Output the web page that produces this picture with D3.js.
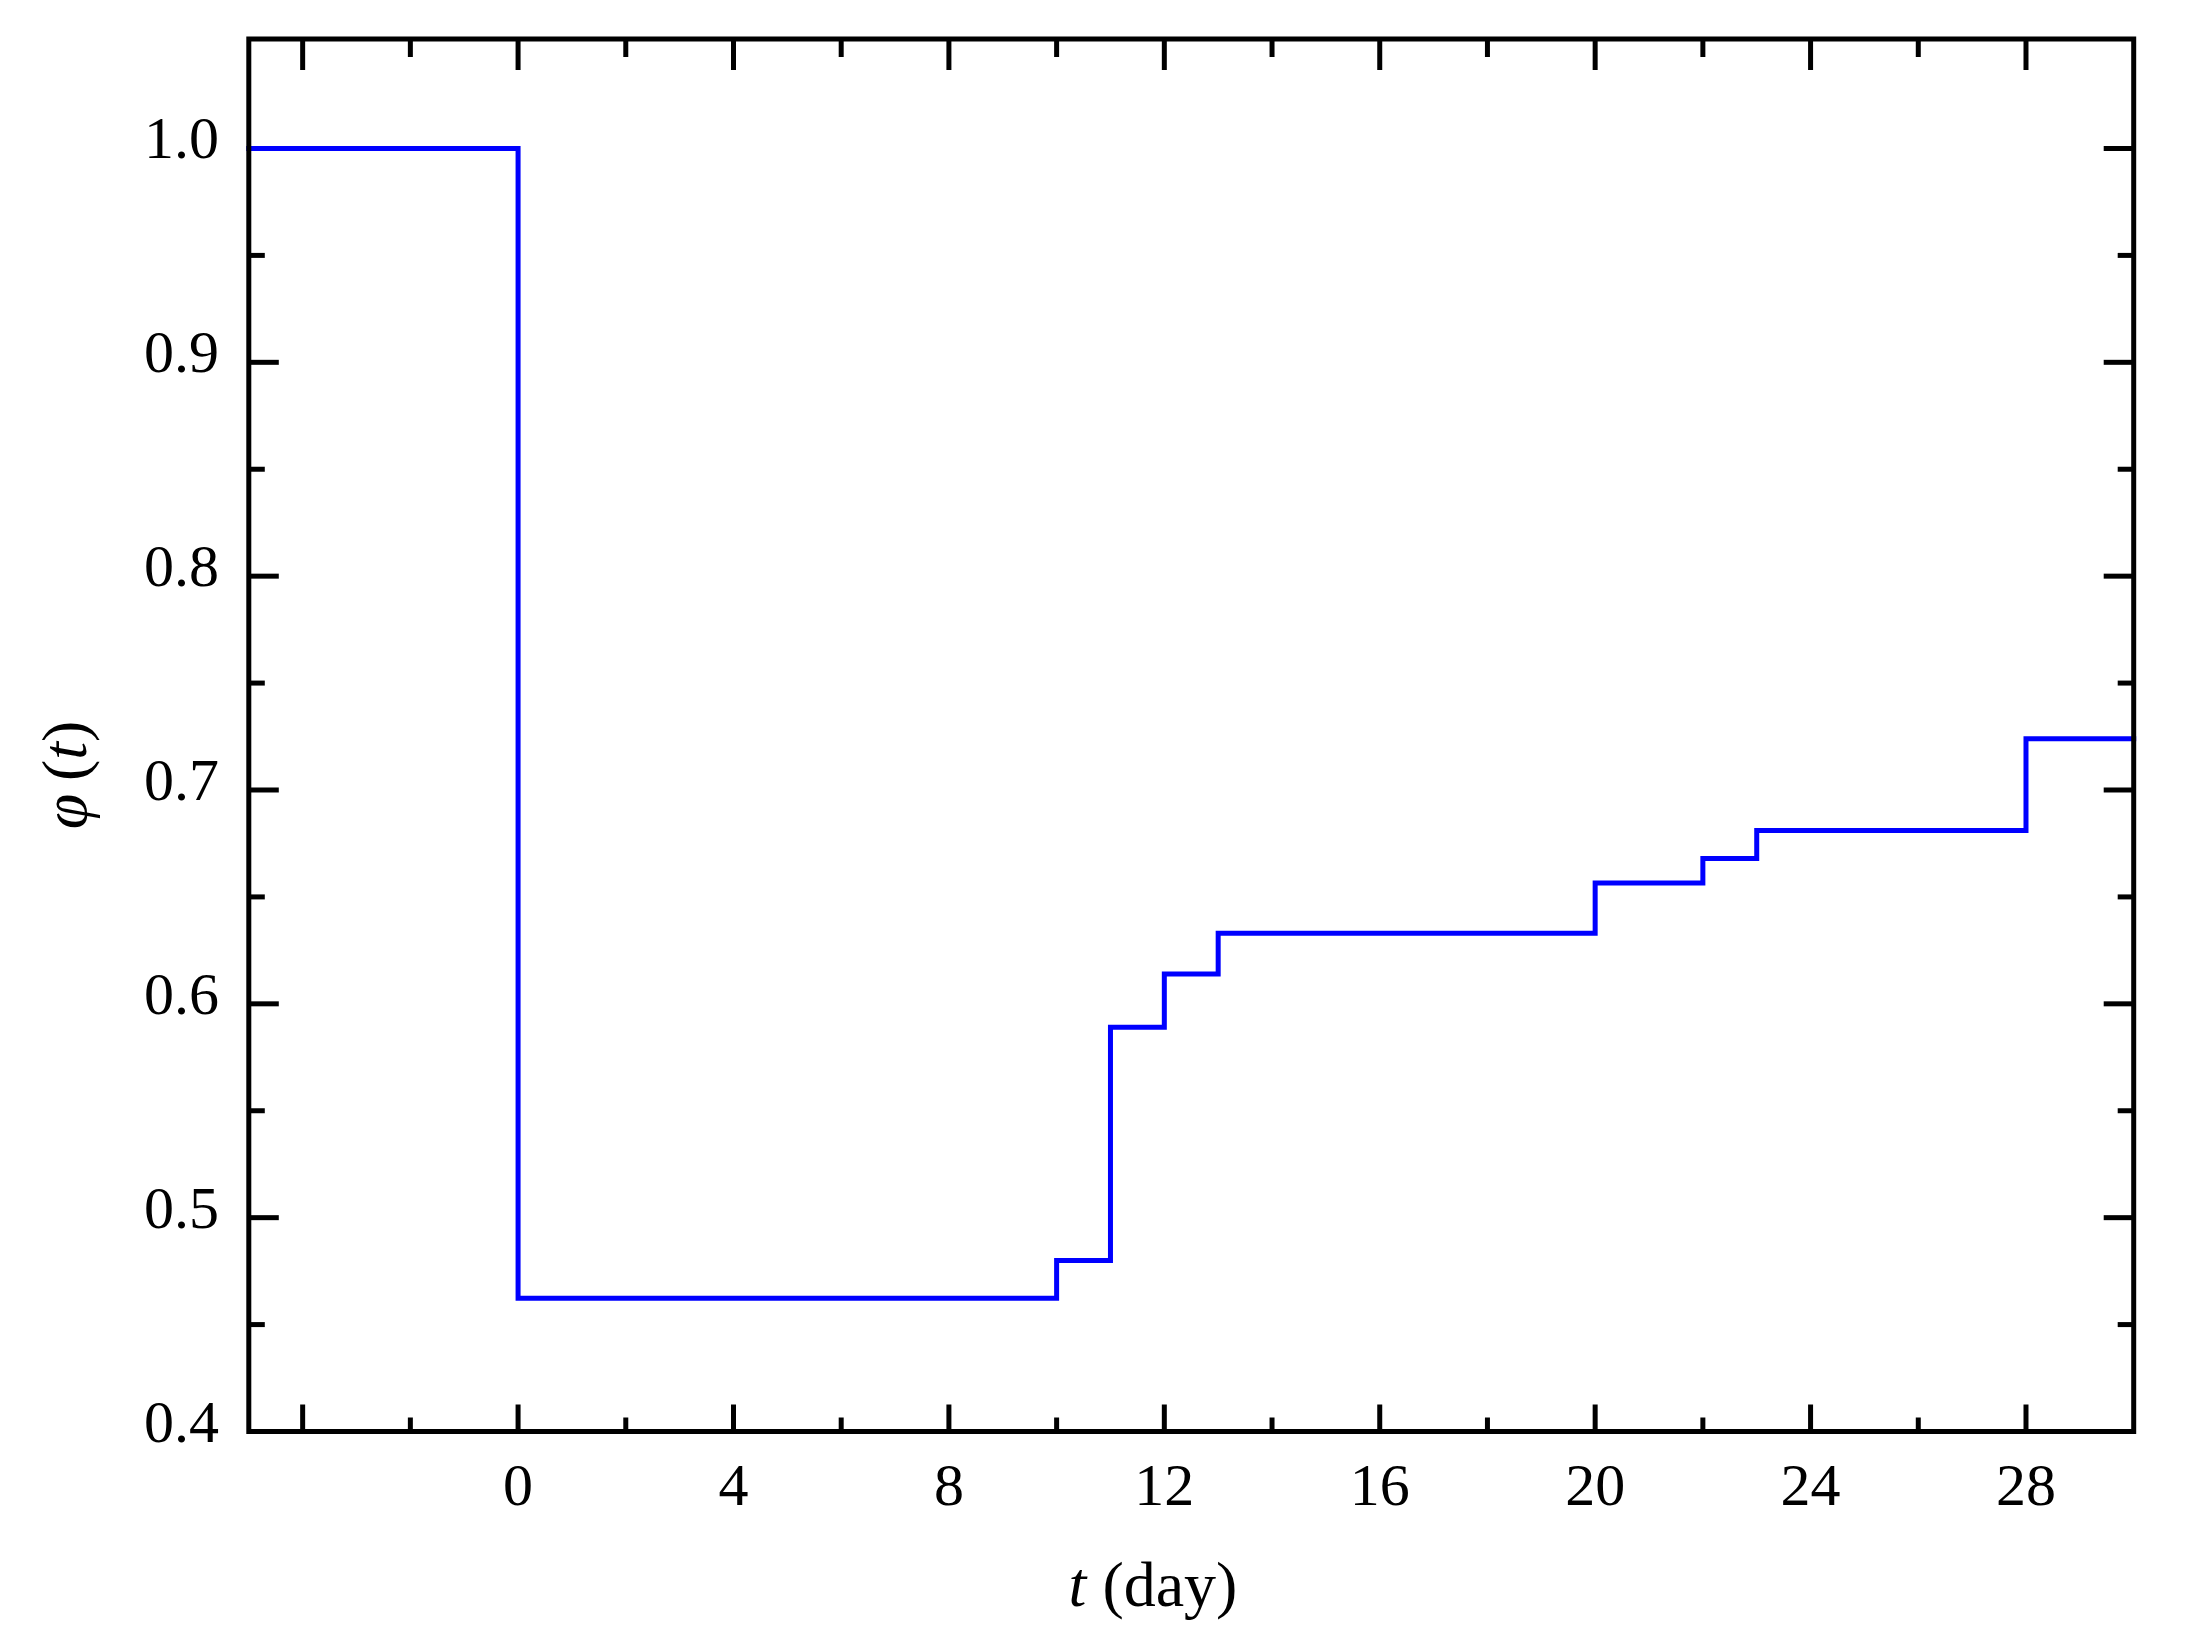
<!DOCTYPE html>
<html>
<head>
<meta charset="utf-8">
<script src="https://cdn.jsdelivr.net/npm/d3@7/dist/d3.min.js"></script>
<style>
  html, body { margin: 0; padding: 0; background: #fff; }
  svg { display: block; }
</style>
</head>
<body>
<svg id="chart" width="2187" height="1648"></svg>
<script>
// Step data: phi(t) level beginning at each time
const stepTimes  = [-5, 0, 10, 11, 12, 13, 20, 22, 23, 28];
const stepValues = [1.0, 0.4623, 0.480, 0.589, 0.614, 0.633, 0.6565, 0.668, 0.681, 0.724];
const tEnd = 30;

const xMajorTicks = [0, 4, 8, 12, 16, 20, 24, 28];
const xTickLabels = ["0", "4", "8", "12", "16", "20", "24", "28"];
const yMajorTicks = [0.4, 0.5, 0.6, 0.7, 0.8, 0.9, 1.0];
const yTickLabels = ["0.4", "0.5", "0.6", "0.7", "0.8", "0.9", "1.0"];

const svg = d3.select("#chart");
const L = 248.8, R = 2133.7, T = 39, B = 1431.5;

const x = d3.scaleLinear().domain([-5, 30]).range([L, R]);
const y = d3.scaleLinear().domain([0.4, 1.0512]).range([B, T]);

const font = "'Liberation Serif', 'DejaVu Serif', serif";

// minor ticks
const xAll = d3.range(-4, 30, 2);
const yAll = d3.range(0, 13).map(i => +(0.4 + i * 0.05).toFixed(2)).filter(v => v <= 1.05);
const isMajorX = t => Math.abs(t % 4) < 1e-9;
const isMajorY = v => Math.abs(Math.round(v * 10) - v * 10) < 1e-6;

const tickG = svg.append("g").attr("stroke", "#000").attr("stroke-width", 5);

// bottom
tickG.selectAll(".xb").data(xAll).enter().append("line")
  .attr("x1", d => x(d)).attr("x2", d => x(d))
  .attr("y1", B).attr("y2", d => B - (isMajorX(d) ? 27 : 14));
// top
tickG.selectAll(".xt").data(xAll).enter().append("line")
  .attr("x1", d => x(d)).attr("x2", d => x(d))
  .attr("y1", T).attr("y2", d => T + (isMajorX(d) ? 31 : 18));
// left
tickG.selectAll(".yl").data(yAll.filter(v => v > 0.4 && v < 1.05)).enter().append("line")
  .attr("y1", d => y(d)).attr("y2", d => y(d))
  .attr("x1", L).attr("x2", d => L + (isMajorY(d) ? 30 : 16));
// right
tickG.selectAll(".yr").data(yAll.filter(v => v > 0.4 && v < 1.05)).enter().append("line")
  .attr("y1", d => y(d)).attr("y2", d => y(d))
  .attr("x1", R).attr("x2", d => R - (isMajorY(d) ? 30 : 16));

// Build step points
const pts = stepTimes.map((t, i) => [t, stepValues[i]]);
pts.push([tEnd, stepValues[stepValues.length - 1]]);

const line = d3.line()
  .x(d => x(d[0]))
  .y(d => y(d[1]))
  .curve(d3.curveStepAfter);

svg.append("path")
  .datum(pts)
  .attr("d", line)
  .attr("fill", "none")
  .attr("stroke", "#0000ff")
  .attr("stroke-width", 5)
  .attr("stroke-linejoin", "miter")
  .attr("stroke-linecap", "square");

// frame
svg.append("rect")
  .attr("x", L).attr("y", T)
  .attr("width", R - L).attr("height", B - T)
  .attr("fill", "none")
  .attr("stroke", "#000")
  .attr("stroke-width", 5);

// tick labels
svg.append("g").selectAll("text").data(xMajorTicks).enter().append("text")
  .attr("x", d => x(d))
  .attr("y", 1505)
  .attr("text-anchor", "middle")
  .attr("font-family", font)
  .attr("font-size", 60)
  .attr("fill", "#000")
  .text((d, i) => xTickLabels[i]);

svg.append("g").selectAll("text").data(yMajorTicks).enter().append("text")
  .attr("x", 219)
  .attr("y", d => y(d) + 10)
  .attr("text-anchor", "end")
  .attr("font-family", font)
  .attr("font-size", 60)
  .attr("fill", "#000")
  .text((d, i) => yTickLabels[i]);

// x title
const xt = svg.append("text")
  .attr("x", 1153)
  .attr("y", 1606)
  .attr("text-anchor", "middle")
  .attr("font-family", font)
  .attr("font-size", 64)
  .attr("fill", "#000");
xt.append("tspan").attr("font-style", "italic").text("t");
xt.append("tspan").text(" (day)");

// y title
const yt = svg.append("text")
  .attr("transform", "translate(86,775) rotate(-90)")
  .attr("text-anchor", "middle")
  .attr("font-family", font)
  .attr("font-size", 64)
  .attr("fill", "#000");
yt.append("tspan").attr("font-style", "italic").text("φ");
yt.append("tspan").text("\u2009(");
yt.append("tspan").attr("font-style", "italic").text("t");
yt.append("tspan").text(")");
</script>
</body>
</html>
